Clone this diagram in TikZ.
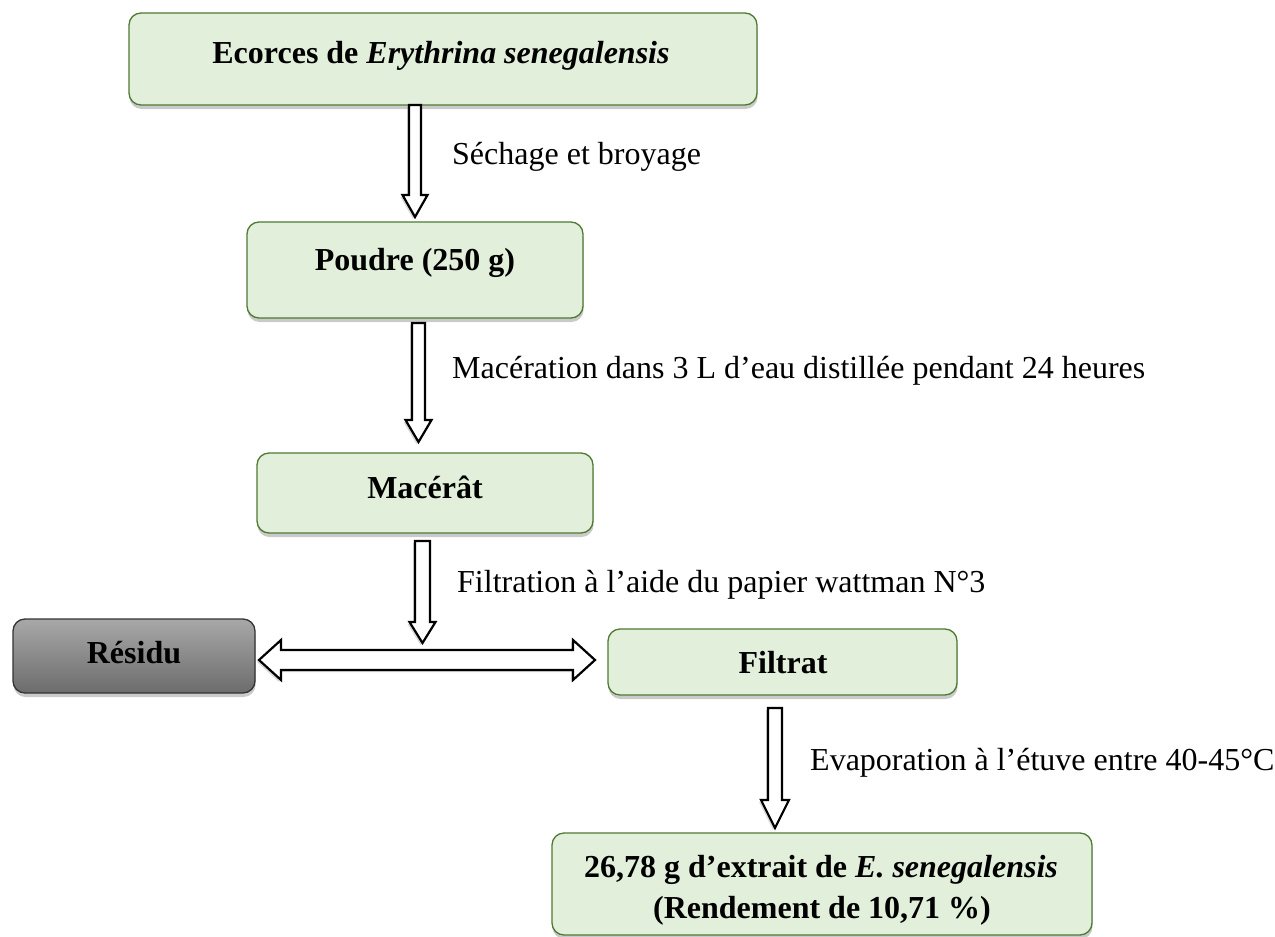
\documentclass[tikz,border=0pt]{standalone}
\usepackage{fontspec}
\setmainfont{Liberation Serif}
\usetikzlibrary{calc,shadows}
\definecolor{boxfill}{HTML}{E2EFDA}
\definecolor{boxline}{HTML}{4E7A32}
\definecolor{resTop}{HTML}{A8A8A8}
\definecolor{resBot}{HTML}{6C6C6C}
\tikzset{
  gbox/.style={draw=boxline, line width=1.3pt, fill=boxfill, rounded corners=12pt,
    inner sep=0pt, outer sep=0pt,
    drop shadow={shadow xshift=0.5pt, shadow yshift=-4pt, opacity=0.35, fill=black!60}},
  rbox/.style={draw=black!80, line width=1.3pt, top color=resTop, bottom color=resBot,
    rounded corners=12pt, inner sep=0pt, outer sep=0pt,
    drop shadow={shadow xshift=0.5pt, shadow yshift=-4pt, opacity=0.35, fill=black!60}},
  txtb/.style={font=\fontsize{32}{41}\selectfont\bfseries, inner sep=0pt},
  txtl/.style={font=\fontsize{32}{41}\selectfont, inner sep=0pt, anchor=base west},
  barrow/.style={draw=black, line width=2.2pt, fill=white, line join=miter,
    drop shadow={shadow xshift=-2pt, shadow yshift=-2pt, opacity=0.3, fill=black!50}}
}
\newcommand{\blockdn}[5]{%
  \draw[barrow] let \p1=(#1), \p2=(#2) in
    (\x1-#3pt,\y1) -- (\x1+#3pt,\y1) -- (\x1+#3pt,\y2+#5pt) -- (\x1+#4pt,\y2+#5pt)
    -- (\x1,\y2) -- (\x1-#4pt,\y2+#5pt) -- (\x1-#3pt,\y2+#5pt) -- cycle;}
\begin{document}
\begin{tikzpicture}[x=1pt,y=-1pt]
\useasboundingbox (0,0) rectangle (1275,937);
% boxes
\node[gbox, minimum width=628, minimum height=92] (b1) at (443,59) {};
\node[gbox, minimum width=336, minimum height=96] (b2) at (415,270) {};
\node[gbox, minimum width=336, minimum height=80] (b3) at (425,493) {};
\node[rbox, minimum width=242, minimum height=74] (res) at (134,656) {};
\node[gbox, minimum width=349, minimum height=66] (fil) at (782.5,662) {};
\node[gbox, minimum width=540, minimum height=102] (fin) at (822,884) {};
% box texts
\node[txtb, anchor=base] (t1) at (441,63) {Ecorces de \textit{Erythrina senegalensis}};
\node[txtb, anchor=base] (t2) at (415,270) {Poudre (250 g)};
\node[txtb, anchor=base] (t3) at (425,498) {Macérât};
\node[txtb, anchor=base] (t4) at (134,663) {Résidu};
\node[txtb, anchor=base] (t5) at (783,673) {Filtrat};
\node[txtb, anchor=base] (t6) at (821,877) {26,78 g d’extrait de \textit{E. senegalensis}};
\node[txtb, anchor=base] (t7) at (822,918) {(Rendement de 10,71 \%)};
% labels
\node[txtl] (l1) at (452,164) {Séchage et broyage};
\node[txtl] (l2) at (452,378) {Macération dans 3 L d’eau distillée pendant 24 heures};
\node[txtl] (l3) at (457,592) {Filtration à l’aide du papier wattman N°3};
\node[txtl] (l4) at (810,770) {Evaporation à l’étuve entre 40-45°C};
% arrow end points
\coordinate (a1s) at (b2.north |- b1.south);
\coordinate (a1e) at ($(b2.north)+(0,-5)$);
\coordinate (a2s) at ($(b2.south)+(3.5,5)$);
\coordinate (a2e) at ($(a2s |- b3.north)+(0,-11)$);
\coordinate (dl) at ($(res.east)+(4,4)$);
\coordinate (dr) at ($(fil.west)+(-13,-2)$);
\coordinate (a3s) at ($(b3.south)+(-2.5,8)$);
\coordinate (a3e) at ($(a3s |- dl)+(0,-17)$);
\coordinate (a4s) at ($(fil.south)+(-7.5,13)$);
\coordinate (a4e) at ($(a4s |- fin.north)+(0,-5)$);
% arrows
\blockdn{a1s}{a1e}{6}{12.5}{22}
\blockdn{a2s}{a2e}{6.5}{13}{22}
\blockdn{a3s}{a3e}{7.5}{13}{21}
\blockdn{a4s}{a4e}{7}{14}{28}
\draw[barrow] let \p1=(dl), \p2=(dr) in
  (\x1,\y1) -- (\x1+22pt,\y1+20pt) -- (\x1+22pt,\y1+10pt) -- (\x2-22pt,\y1+10pt)
  -- (\x2-22pt,\y1+20pt) -- (\x2,\y2) -- (\x2-22pt,\y1-20pt) -- (\x2-22pt,\y1-10pt)
  -- (\x1+22pt,\y1-10pt) -- (\x1+22pt,\y1-20pt) -- cycle;
\end{tikzpicture}
\end{document}
